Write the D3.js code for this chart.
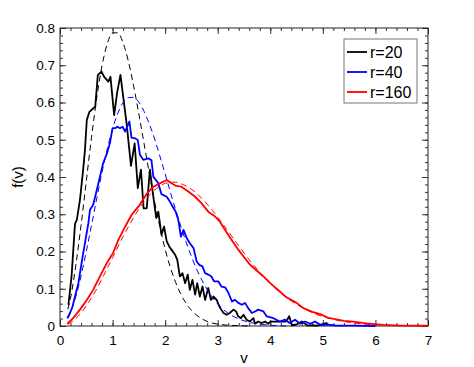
<!DOCTYPE html>
<html>
<head>
<meta charset="utf-8">
<script src="https://cdn.jsdelivr.net/npm/d3@7"></script>
<style>
  body { margin: 0; background: #fff; }
  svg { font-family: "Liberation Sans", Arial, Helvetica, sans-serif; }
  .tick text { font-size: 13.5px; fill: #000; }
</style>
</head>
<body>
<div class="board"></div>
<script>
// simulated distributions (solid) as [v, f(v)]
var black20 = [[0.16,0.057],[0.22,0.133],[0.285,0.274],[0.32,0.285],[0.38,0.339],[0.44,0.419],[0.475,0.473],
  [0.51,0.553],[0.56,0.575],[0.63,0.584],[0.67,0.589],[0.72,0.674],[0.79,0.683],[0.84,0.669],[0.92,0.656],
  [0.96,0.669],[1.03,0.566],[1.09,0.629],[1.15,0.674],[1.27,0.54],[1.35,0.43],[1.42,0.49],[1.48,0.37],
  [1.54,0.42],[1.59,0.316],[1.65,0.316],[1.71,0.42],[1.775,0.347],[1.83,0.29],[1.87,0.307],[1.93,0.245],
  [1.98,0.267],[2.03,0.227],[2.08,0.213],[2.12,0.205],[2.19,0.191],[2.23,0.178],[2.28,0.133],[2.33,0.142],
  [2.38,0.115],[2.43,0.138],[2.47,0.097],[2.52,0.124],[2.57,0.084],[2.61,0.115],[2.66,0.079],[2.71,0.106],
  [2.76,0.070],[2.82,0.102],[2.87,0.070],[2.92,0.079],[2.98,0.07],[3.04,0.05],[3.11,0.035],[3.17,0.03],
  [3.23,0.035],[3.30,0.044],[3.35,0.039],[3.39,0.026],[3.44,0.021],[3.49,0.030],[3.55,0.017],[3.61,0.012],
  [3.68,0.021],[3.71,0.006],[3.77,0.012],[3.84,0.008],[3.90,0.012],[3.96,0.006],[4.0,0.012],[4.3,0.012],
  [4.36,0.026],[4.41,0.002],[4.5,0.004],[4.6,0.012],[4.7,0.002],[4.9,0.001],[5.07,0.008],[5.1,0.003]];

var blue40 = [[0.14,0.021],[0.19,0.035],[0.24,0.053],[0.285,0.079],[0.35,0.115],[0.41,0.169],[0.475,0.223],
  [0.54,0.276],[0.57,0.312],[0.63,0.325],[0.70,0.365],[0.76,0.401],[0.82,0.437],[0.89,0.462],[0.95,0.491],
  [1.0,0.531],[1.05,0.531],[1.09,0.535],[1.14,0.531],[1.19,0.535],[1.24,0.522],[1.32,0.549],[1.36,0.506],
  [1.43,0.504],[1.48,0.499],[1.52,0.46],[1.585,0.446],[1.68,0.45],[1.74,0.445],[1.775,0.401],[1.87,0.383],
  [1.93,0.354],[2.03,0.347],[2.09,0.334],[2.16,0.316],[2.20,0.307],[2.25,0.285],[2.30,0.240],[2.35,0.258],
  [2.41,0.236],[2.47,0.222],[2.54,0.209],[2.60,0.173],[2.65,0.164],[2.71,0.160],[2.76,0.142],[2.82,0.138],
  [2.88,0.133],[2.93,0.120],[3.01,0.120],[3.07,0.106],[3.14,0.104],[3.20,0.090],[3.27,0.066],[3.33,0.070],
  [3.39,0.062],[3.46,0.057],[3.52,0.062],[3.58,0.048],[3.65,0.035],[3.71,0.039],[3.77,0.044],[3.87,0.039],
  [3.93,0.026],[4.06,0.021],[4.18,0.012],[4.28,0.017],[4.37,0.008],[4.47,0.017],[4.57,0.006],[4.66,0.012],
  [4.76,0.006],[4.85,0.012],[4.95,0.003],[5.07,0.004],[5.26,0.001],[5.6,0.001],[6.0,0.0]];

var red160 = [[0.14,0.006],[0.25,0.021],[0.38,0.044],[0.51,0.070],[0.63,0.097],[0.76,0.133],[0.89,0.169],
  [1.01,0.196],[1.11,0.231],[1.24,0.267],[1.36,0.298],[1.52,0.326],[1.65,0.355],[1.775,0.374],[1.90,0.383],
  [2.03,0.392],[2.12,0.383],[2.21,0.376],[2.31,0.374],[2.44,0.361],[2.57,0.347],[2.69,0.330],[2.82,0.307],
  [2.95,0.294],[3.04,0.280],[3.14,0.258],[3.23,0.238],[3.39,0.205],[3.61,0.165],[3.87,0.133],[4.0,0.115],
  [4.12,0.100],[4.31,0.077],[4.50,0.062],[4.63,0.048],[4.80,0.038],[4.95,0.032],[5.10,0.022],[5.26,0.018],
  [5.4,0.014],[5.58,0.012],[5.83,0.007],[6.15,0.003],[6.5,0.001],[6.97,0.001]];

// theory curves (dashed), sampled by eye
var black20Fit = [[0.15,0.045],[0.2,0.075],[0.3,0.162],[0.4,0.270],[0.5,0.389],[0.6,0.507],[0.7,0.613],
  [0.8,0.699],[0.9,0.758],[1.0,0.787],[1.1,0.787],[1.2,0.760],[1.3,0.711],[1.4,0.645],[1.5,0.569],
  [1.6,0.489],[1.7,0.409],[1.8,0.333],[1.9,0.266],[2.0,0.206],[2.2,0.117],[2.4,0.060],[2.6,0.029],
  [2.8,0.012],[3.0,0.005],[3.2,0.002],[3.4,0.001],[3.6,0.0]];

var blue40Fit = [[0.15,0.02],[0.2,0.036],[0.3,0.079],[0.4,0.134],[0.5,0.200],[0.6,0.271],[0.7,0.343],
  [0.8,0.413],[0.9,0.476],[1.0,0.530],[1.1,0.571],[1.2,0.600],[1.3,0.613],[1.4,0.614],[1.5,0.601],
  [1.6,0.576],[1.7,0.542],[1.8,0.502],[1.9,0.456],[2.0,0.408],[2.2,0.312],[2.4,0.225],[2.6,0.152],
  [2.8,0.098],[3.0,0.059],[3.2,0.034],[3.4,0.019],[3.6,0.010],[3.8,0.005],[4.0,0.002],[4.3,0.0]];

var red160Fit = [[0.15,0.005],[0.2,0.009],[0.3,0.020],[0.4,0.035],[0.5,0.054],[0.6,0.076],[0.7,0.100],
  [0.8,0.127],[0.9,0.155],[1.0,0.183],[1.1,0.212],[1.2,0.240],[1.3,0.266],[1.4,0.291],[1.5,0.314],
  [1.6,0.334],[1.7,0.351],[1.8,0.365],[1.9,0.375],[2.0,0.383],[2.1,0.386],[2.2,0.386],[2.3,0.382],
  [2.4,0.376],[2.5,0.367],[2.6,0.356],[2.7,0.342],[2.8,0.327],[2.9,0.310],[3.0,0.292],[3.2,0.254],
  [3.4,0.215],[3.6,0.178],[3.8,0.144],[4.0,0.114],[4.2,0.088],[4.4,0.067],[4.6,0.050],[4.8,0.036],
  [5.0,0.025],[5.2,0.018],[5.4,0.012],[5.6,0.008],[5.8,0.005],[6.0,0.003],[6.5,0.001],[7.0,0.0]];

var legendLabels = ['r=20', 'r=40', 'r=160'];
var legendColors = ['#000', '#0000ff', '#ff0000'];
var xTicks = [0, 1, 2, 3, 4, 5, 6, 7];
var yTicks = [0, 0.1, 0.2, 0.3, 0.4, 0.5, 0.6, 0.7, 0.8];

var width = 474, height = 367;
var margin = {top: 28, right: 46, bottom: 41, left: 60};
var w = width - margin.left - margin.right;
var h = height - margin.top - margin.bottom;

var svg = d3.select('.board').append('svg')
  .attr('width', width)
  .attr('height', height);

var g = svg.append('g').attr('transform', 'translate(' + margin.left + ',' + margin.top + ')');

var x = d3.scaleLinear().domain([0, 7]).range([0, w]);
var y = d3.scaleLinear().domain([0, 0.8]).range([h, 0]);

// ticks point inward on all four sides
var minorX = d3.range(0, 7.001, 0.2);
var minorY = d3.range(0, 0.8001, 0.02);

g.append('g').attr('transform', 'translate(0,' + h + ')')
  .call(d3.axisBottom(x).tickValues(minorX).tickSize(-3).tickSizeOuter(0).tickFormat(''));
g.append('g').attr('transform', 'translate(0,' + h + ')')
  .call(d3.axisBottom(x).tickValues(xTicks).tickSize(-6).tickSizeOuter(0).tickPadding(9).tickFormat(d3.format('d')));
g.append('g')
  .call(d3.axisTop(x).tickValues(minorX).tickSize(-3).tickSizeOuter(0).tickFormat(''));
g.append('g')
  .call(d3.axisTop(x).tickValues(xTicks).tickSize(-6).tickSizeOuter(0).tickFormat(''));

g.append('g')
  .call(d3.axisLeft(y).tickValues(minorY).tickSize(-3).tickSizeOuter(0).tickFormat(''));
g.append('g')
  .call(d3.axisLeft(y).tickValues(yTicks).tickSize(-6).tickSizeOuter(0).tickPadding(5)
    .tickFormat(function (d) { return d === 0 ? '0' : d3.format('.1f')(d); }));
g.append('g').attr('transform', 'translate(' + w + ',0)')
  .call(d3.axisRight(y).tickValues(minorY).tickSize(-3).tickSizeOuter(0).tickFormat(''));
g.append('g').attr('transform', 'translate(' + w + ',0)')
  .call(d3.axisRight(y).tickValues(yTicks).tickSize(-6).tickSizeOuter(0).tickFormat(''));

g.selectAll('.domain').remove();
g.selectAll('.tick line').attr('stroke', '#333');

g.append('rect')
  .attr('width', w).attr('height', h)
  .attr('fill', 'none').attr('stroke', '#222').attr('stroke-width', 1);

var line = d3.line()
  .x(function (d) { return x(d[0]); })
  .y(function (d) { return y(d[1]); });

var smooth = d3.line()
  .curve(d3.curveMonotoneX)
  .x(function (d) { return x(d[0]); })
  .y(function (d) { return y(d[1]); });

var series = [
  {data: black20, color: legendColors[0], dash: false},
  {data: black20Fit, color: legendColors[0], dash: true},
  {data: blue40, color: legendColors[1], dash: false},
  {data: blue40Fit, color: legendColors[1], dash: true},
  {data: red160, color: legendColors[2], dash: false},
  {data: red160Fit, color: legendColors[2], dash: true}
];

g.selectAll('path.curve')
  .data(series)
  .enter()
  .append('path')
  .classed('curve', true)
  .attr('d', function (d) { return d.dash ? smooth(d.data) : line(d.data); })
  .attr('fill', 'none')
  .attr('stroke', function (d) { return d.color; })
  .attr('stroke-width', function (d) { return d.dash ? 1 : 1.8; })
  .attr('stroke-dasharray', function (d) { return d.dash ? '6,4' : null; })
  .attr('stroke-linejoin', 'round');

// legend
var lg = svg.append('g').attr('transform', 'translate(344,39)');
lg.append('rect')
  .attr('width', 73).attr('height', 64)
  .attr('fill', '#fff').attr('stroke', '#777').attr('stroke-width', 1);

var item = lg.selectAll('g.item')
  .data(legendLabels)
  .enter()
  .append('g')
  .classed('item', true)
  .attr('transform', function (d, i) { return 'translate(0,' + (13 + i * 20) + ')'; });

item.append('line')
  .attr('x1', 3).attr('x2', 23)
  .attr('stroke', function (d, i) { return legendColors[i]; })
  .attr('stroke-width', 1.8);

item.append('text')
  .attr('x', 26).attr('dy', '0.36em')
  .style('font-size', '16px')
  .text(function (d) { return d; });

// axis titles
svg.append('text')
  .attr('x', margin.left + w / 2).attr('y', 363)
  .attr('text-anchor', 'middle')
  .style('font-size', '15px')
  .text('v');

svg.append('text')
  .attr('transform', 'translate(23,' + (margin.top + h / 2) + ') rotate(-90)')
  .attr('text-anchor', 'middle')
  .style('font-size', '15px')
  .text('f(v)');
</script>
</body>
</html>
